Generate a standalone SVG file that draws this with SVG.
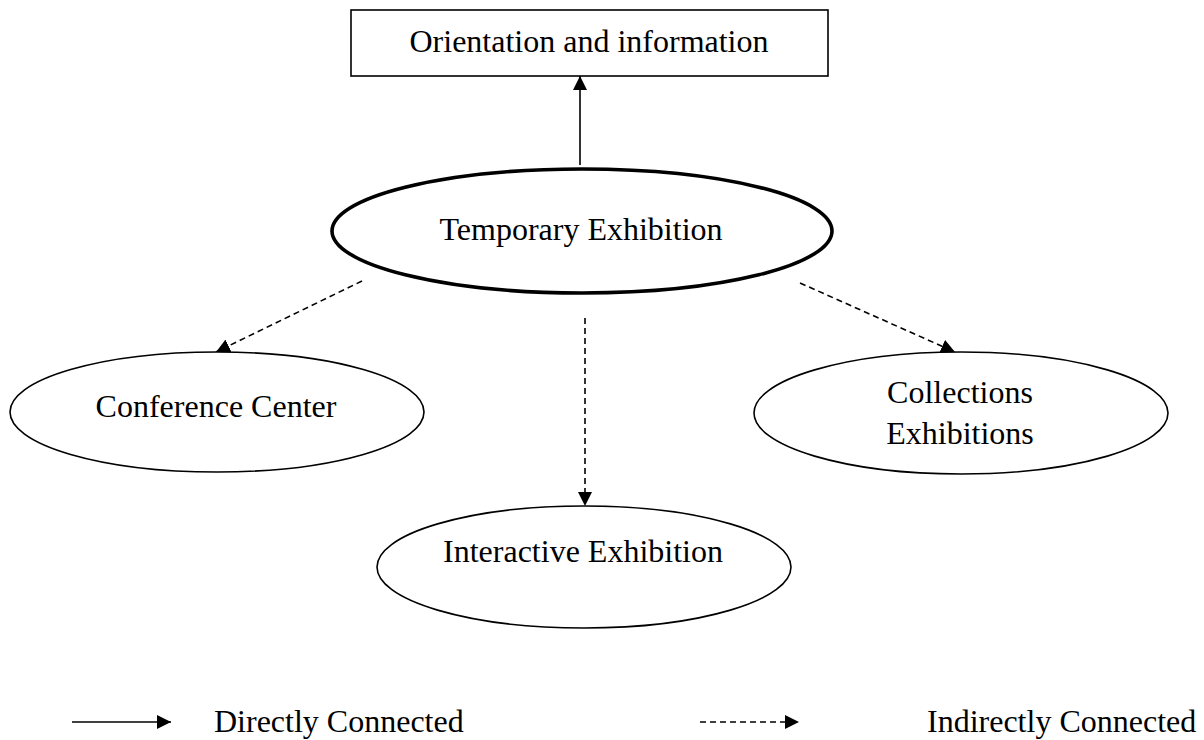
<svg xmlns="http://www.w3.org/2000/svg" width="1204" height="740" viewBox="0 0 1204 740">
<style>
text{font-family:"Liberation Serif","Times New Roman",serif;font-size:32px;fill:#000;text-anchor:middle}
.node{fill:#fff;stroke:#000;stroke-width:1.6}
.main{fill:#fff;stroke:#000;stroke-width:3.6}
.solid{stroke:#000;stroke-width:1.6;fill:none}
.dash{stroke:#000;stroke-width:1.6;fill:none;stroke-dasharray:6 4}
.legend{text-anchor:start}
</style>
<defs>
<marker id="ah" markerUnits="userSpaceOnUse" markerWidth="16" markerHeight="16" refX="14" refY="7" orient="auto">
<path d="M0,0 L14,7 L0,14 z" fill="#000"/>
</marker>
</defs>
<g id="connectors">
<line class="solid" x1="580" y1="165" x2="580" y2="76" marker-end="url(#ah)"/>
<line class="dash" x1="362" y1="281" x2="216" y2="352" marker-end="url(#ah)"/>
<line class="dash" x1="800" y1="283" x2="955" y2="352" marker-end="url(#ah)"/>
<line class="dash" x1="585" y1="318" x2="585" y2="506" marker-end="url(#ah)"/>
</g>
<g id="orientation">
<rect class="node" x="351" y="10" width="477" height="66"/>
<text x="589" y="52">Orientation and information</text>
</g>
<g id="temporary">
<ellipse class="main" cx="582" cy="231" rx="250" ry="62"/>
<text x="581" y="240">Temporary Exhibition</text>
</g>
<g id="conference">
<ellipse class="node" cx="217" cy="412" rx="207" ry="60"/>
<text x="216" y="417">Conference Center</text>
</g>
<g id="collections">
<ellipse class="node" cx="961" cy="413" rx="207" ry="61"/>
<text x="960" y="403">Collections</text>
<text x="960" y="444">Exhibitions</text>
</g>
<g id="interactive">
<ellipse class="node" cx="584" cy="567" rx="207" ry="61"/>
<text x="583" y="562">Interactive Exhibition</text>
</g>
<g id="legend">
<line class="solid" x1="72" y1="722" x2="171" y2="722" marker-end="url(#ah)"/>
<text class="legend" x="214" y="732">Directly Connected</text>
<line class="dash" x1="700" y1="722" x2="799" y2="722" marker-end="url(#ah)"/>
<text class="legend" x="927" y="732">Indirectly Connected</text>
</g>
</svg>
